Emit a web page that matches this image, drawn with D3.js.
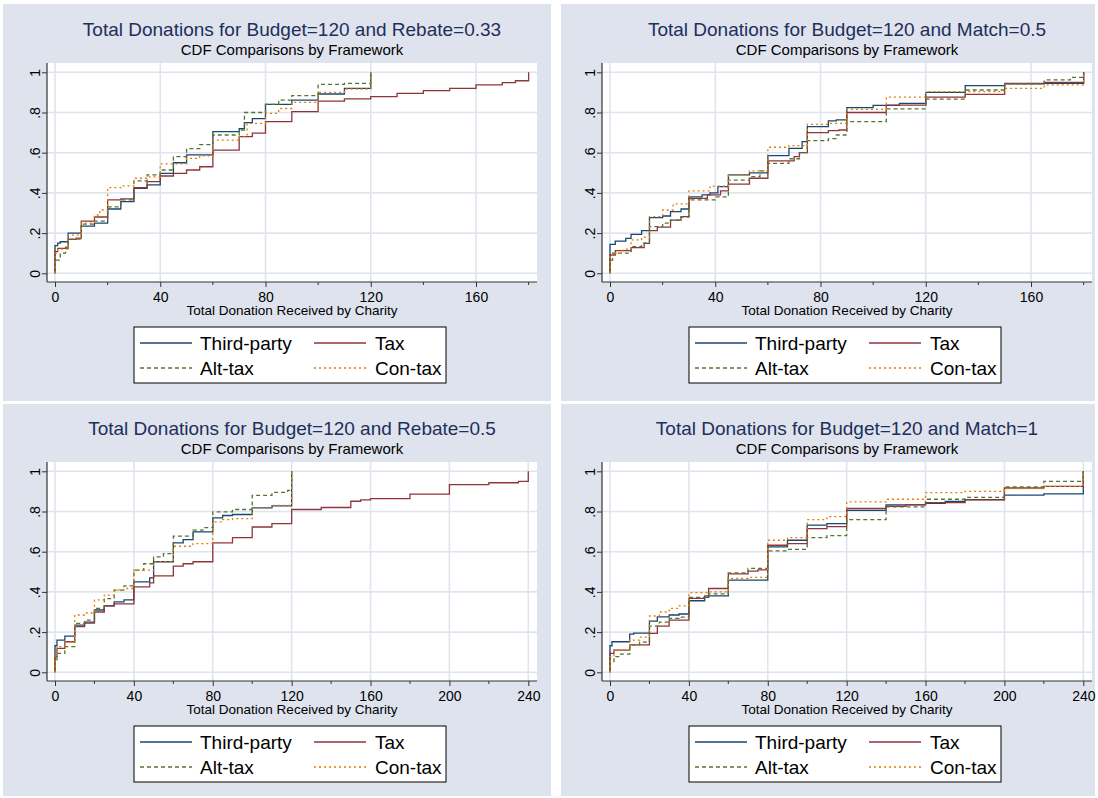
<!DOCTYPE html>
<html><head><meta charset="utf-8">
<script src="https://cdn.jsdelivr.net/npm/d3@7"></script>
<style>body{margin:0;background:#fff} text{font-family:"Liberation Sans",Arial,sans-serif}</style>
</head><body><svg id="c" width="1098" height="798"></svg>
<script>
// ---------- DATA (step points: [donation, cumulative share]) ----------
const seriesNames = ["Third-party","Tax","Alt-tax","Con-tax"];
const titles = ["Total Donations for Budget=120 and Rebate=0.33","Total Donations for Budget=120 and Match=0.5",
                "Total Donations for Budget=120 and Rebate=0.5","Total Donations for Budget=120 and Match=1"];
const subtitle = "CDF Comparisons by Framework";
const xTitle = "Total Donation Received by Charity";
const xTicksA = [0,40,80,120,160], xMinorA = [20,60,100,140,180];
const xTicksB = [0,40,80,120,160,200,240], xMinorB = [20,60,100,140,180,220];
const yTicks = [0,.2,.4,.6,.8,1], yLabels = ["0",".2",".4",".6",".8","1"];

const reb33_third = [[0,0],[0,.138],[1,.15],[2,.157],[5,.20],[10,.235],[15,.25],[20,.32],[25,.357],[30,.423],[35,.44],[40,.497],[45,.55],[50,.589],[60,.705],[70,.72],[72,.75],[75,.77],[80,.84],[90,.862],[100,.892],[110,.92],[120,1]];
const reb33_tax = [[0,0],[0,.108],[1,.124],[5,.169],[8,.175],[10,.26],[15,.28],[20,.365],[25,.37],[30,.426],[35,.456],[40,.484],[45,.497],[50,.514],[55,.53],[60,.613],[70,.68],[75,.697],[80,.755],[90,.804],[100,.857],[110,.868],[120,.879],[130,.895],[140,.909],[150,.92],[160,.937],[170,.949],[175,.958],[180,1]];
const reb33_alt = [[0,0],[0,.066],[2,.10],[4,.13],[5,.17],[10,.245],[15,.26],[20,.33],[25,.365],[30,.46],[35,.49],[40,.514],[45,.58],[50,.62],[55,.64],[60,.688],[70,.713],[72,.80],[80,.84],[85,.862],[90,.884],[100,.94],[110,.945],[120,1]];
const reb33_con = [[0,0],[0,.10],[1,.12],[5,.19],[10,.25],[15,.29],[17,.315],[20,.426],[25,.435],[30,.473],[35,.48],[40,.544],[50,.572],[55,.584],[60,.663],[70,.68],[73,.746],[80,.796],[85,.82],[90,.85],[100,.90],[110,.917],[120,1]];

const mat05_third = [[0,0],[0,.144],[2,.16],[6,.174],[8,.194],[12,.212],[15,.277],[20,.285],[23,.307],[27,.32],[30,.38],[35,.39],[38,.40],[41,.431],[45,.49],[53,.50],[60,.585],[68,.622],[73,.655],[75,.73],[83,.758],[86,.763],[90,.824],[100,.835],[110,.845],[120,.90],[135,.934],[150,.942],[165,.945],[180,1]];
const mat05_tax = [[0,0],[0,.091],[2,.113],[8,.128],[13,.149],[15,.212],[18,.23],[23,.265],[27,.282],[30,.373],[37,.39],[42,.41],[45,.444],[53,.473],[60,.559],[70,.58],[72,.60],[75,.70],[83,.71],[87,.713],[90,.80],[105,.837],[120,.876],[135,.89],[150,.945],[165,.95],[180,1]];
const mat05_alt = [[0,0],[0,.066],[1,.10],[8,.133],[12,.15],[15,.232],[20,.25],[23,.265],[27,.28],[30,.365],[40,.38],[45,.464],[53,.481],[57,.51],[60,.547],[68,.57],[72,.60],[75,.66],[83,.67],[86,.688],[90,.755],[105,.818],[120,.867],[135,.912],[150,.942],[165,.962],[175,.975],[180,1]];
const mat05_con = [[0,0],[0,.083],[1,.10],[5,.12],[8,.166],[12,.18],[15,.282],[20,.315],[24,.345],[30,.41],[38,.434],[45,.489],[53,.51],[60,.627],[68,.635],[75,.741],[83,.746],[90,.816],[105,.876],[120,.904],[150,.92],[165,.937],[180,1]];

const reb50_third = [[0,0],[0,.132],[1,.16],[5,.18],[10,.235],[15,.25],[20,.31],[25,.33],[30,.35],[35,.36],[40,.45],[48,.47],[50,.55],[60,.644],[65,.66],[70,.699],[80,.768],[85,.78],[90,.785],[100,.818],[110,.828],[120,1]];
const reb50_tax = [[0,0],[0,.078],[1,.119],[5,.152],[10,.227],[15,.245],[20,.30],[25,.33],[30,.34],[40,.425],[48,.445],[50,.48],[60,.528],[65,.54],[70,.55],[80,.644],[90,.67],[100,.723],[110,.74],[120,.81],[135,.82],[150,.851],[155,.858],[160,.864],[180,.886],[200,.934],[220,.943],[235,.95],[240,1]];
const reb50_alt = [[0,0],[0,.061],[1,.094],[5,.128],[10,.243],[15,.26],[20,.318],[25,.367],[30,.409],[35,.43],[40,.508],[45,.54],[50,.574],[55,.59],[60,.677],[70,.707],[75,.72],[80,.798],[90,.81],[100,.88],[110,.895],[118,.905],[120,1]];
const reb50_con = [[0,0],[0,.086],[1,.128],[5,.15],[10,.285],[15,.295],[20,.36],[25,.384],[30,.41],[35,.417],[40,.508],[50,.55],[60,.627],[70,.64],[80,.748],[85,.76],[90,.765],[100,.818],[110,.83],[120,1]];

const mat10_third = [[0,0],[0,.132],[1,.152],[10,.19],[12,.195],[20,.255],[24,.276],[30,.285],[35,.29],[40,.356],[48,.373],[50,.38],[60,.459],[80,.624],[90,.657],[100,.732],[110,.74],[120,.806],[140,.833],[160,.841],[170,.85],[180,.859],[200,.881],[220,.888],[240,1]];
const mat10_tax = [[0,0],[0,.094],[2,.11],[10,.136],[20,.194],[24,.23],[30,.26],[40,.368],[48,.38],[50,.417],[60,.49],[70,.503],[75,.51],[80,.632],[90,.64],[100,.715],[110,.725],[120,.815],[140,.826],[150,.834],[160,.844],[180,.858],[200,.917],[220,.925],[240,1]];
const mat10_alt = [[0,0],[0,.053],[2,.078],[5,.09],[10,.136],[15,.15],[20,.23],[25,.25],[30,.268],[35,.275],[40,.373],[50,.39],[60,.495],[70,.517],[80,.604],[90,.612],[100,.67],[110,.68],[120,.76],[140,.823],[160,.861],[180,.87],[200,.922],[220,.95],[240,1]];
const mat10_con = [[0,0],[0,.078],[2,.111],[10,.16],[15,.175],[20,.28],[25,.30],[30,.318],[35,.33],[40,.396],[50,.40],[60,.467],[70,.472],[80,.657],[90,.67],[100,.76],[110,.775],[120,.848],[140,.861],[160,.894],[180,.90],[200,.914],[220,.925],[240,1]];

// ---------- STYLE / LAYOUT ----------
const BG = "#dee3ee", GRID = "#dfe4ee", TITLE_C = "#1e2f5a";
const colors = ["#1a476f","#90353b","#55752f","#e37e00"];
const dashes = [null, null, "4,3", "2,3"];
const panels = [
  {ox:0,   oy:0,   bg:[3,4,548,397],   data:[reb33_third,reb33_tax,reb33_alt,reb33_con], ticks:xTicksA, minor:xMinorA, dom:[0,160], rng:[55,476]},
  {ox:555, oy:0,   bg:[561,4,534,397], data:[mat05_third,mat05_tax,mat05_alt,mat05_con], ticks:xTicksA, minor:xMinorA, dom:[0,160], rng:[55,476]},
  {ox:0,   oy:399, bg:[3,404,548,392], data:[reb50_third,reb50_tax,reb50_alt,reb50_con], ticks:xTicksB, minor:xMinorB, dom:[0,240], rng:[55,528.3]},
  {ox:555, oy:399, bg:[561,404,534,392], data:[mat10_third,mat10_tax,mat10_alt,mat10_con], ticks:xTicksB, minor:xMinorB, dom:[0,240], rng:[55,528.3]}
];

const svg = d3.select("#c");
panels.forEach((p, i) => {
  const g = svg.append("g");
  g.append("rect").attr("x",p.bg[0]).attr("y",p.bg[1]).attr("width",p.bg[2]).attr("height",p.bg[3]).attr("fill",BG);
  const X0 = 47 + p.ox, X1 = 537 + p.ox, Y0 = 63 + p.oy, Y1 = 282 + p.oy;
  const x = d3.scaleLinear().domain(p.dom).range(p.rng.map(v => v + p.ox));
  const y = d3.scaleLinear().domain([0,1]).range([273.3 + p.oy, 72.3 + p.oy]);
  g.append("rect").attr("x",X0).attr("y",Y0).attr("width",X1-X0).attr("height",Y1-Y0).attr("fill","#fff");
  // grid
  g.selectAll(".hg").data(yTicks).join("line").attr("x1",X0).attr("x2",X1)
    .attr("y1",d=>y(d)).attr("y2",d=>y(d)).attr("stroke",GRID).attr("stroke-width",1.6);
  g.selectAll(".vg").data(p.ticks).join("line").attr("y1",Y0).attr("y2",Y1)
    .attr("x1",d=>x(d)).attr("x2",d=>x(d)).attr("stroke",GRID).attr("stroke-width",1.6);
  // series
  const line = d3.line().x(d=>x(d[0])).y(d=>y(d[1])).curve(d3.curveStepAfter);
  p.data.forEach((s, k) => {
    g.append("path").datum(s).attr("d", line).attr("fill","none")
      .attr("stroke", colors[k]).attr("stroke-width",1.3)
      .attr("stroke-dasharray", dashes[k]);
  });
  // y axis
  const ya = g.append("g").attr("transform",`translate(${X0},0)`)
    .call(d3.axisLeft(y).tickValues(yTicks).tickSize(5).tickFormat((d,j)=>yLabels[j]));
  ya.select(".domain").attr("d",`M0,${Y0}V${Y1}`).attr("stroke","#333").attr("stroke-width",1.2);
  ya.selectAll(".tick line").attr("stroke","#333");
  ya.selectAll(".tick text").attr("transform",null).attr("x",null).attr("dy",null)
    .attr("transform","translate(-7,0) rotate(-90)").attr("text-anchor","middle")
    .attr("y",0).attr("font-size",14).attr("fill","#000").attr("font-family","Liberation Sans, Arial");
  // x axis
  const xa = g.append("g").attr("transform",`translate(0,${Y1})`)
    .call(d3.axisBottom(x).tickValues(p.ticks).tickSize(5).tickFormat(d3.format("d")));
  xa.select(".domain").attr("d",`M${X0},0H${X1}`).attr("stroke","#333").attr("stroke-width",1.2);
  xa.selectAll(".tick line").attr("stroke","#333");
  xa.selectAll(".tick text").attr("y",20).attr("dy",null).attr("font-size",14).attr("fill","#000").attr("font-family","Liberation Sans, Arial");
  g.selectAll(".mt").data(p.minor).join("line").attr("x1",d=>x(d)).attr("x2",d=>x(d))
    .attr("y1",Y1).attr("y2",Y1+3).attr("stroke","#333");
  const cx = (X0 + X1) / 2;
  g.append("text").attr("x",cx).attr("y",Y1+33).attr("text-anchor","middle").attr("font-size",13.5).text(xTitle);
  // titles
  g.append("text").attr("x",cx).attr("y",36+p.oy).attr("text-anchor","middle").attr("font-size",19).attr("fill",TITLE_C).text(titles[i]);
  g.append("text").attr("x",cx).attr("y",55+p.oy).attr("text-anchor","middle").attr("font-size",15).attr("fill","#000").text(subtitle);
  // legend
  const lg = g.append("g").attr("transform",`translate(${p.ox},${p.oy})`);
  lg.append("rect").attr("x",134).attr("y",327).attr("width",312).attr("height",56).attr("fill","#fff").attr("stroke","#000").attr("stroke-width",1);
  const pos = [[140,343],[314,343],[140,368],[314,368]];
  seriesNames.forEach((nm,k) => {
    const [lx,ly] = pos[k];
    lg.append("line").attr("x1",lx).attr("x2",lx+52).attr("y1",ly).attr("y2",ly)
      .attr("stroke",colors[k]).attr("stroke-width",1.3).attr("stroke-dasharray",dashes[k]);
    lg.append("text").attr("x",lx+(k%2?61:60)).attr("y",ly+7).attr("font-size",19).attr("fill","#000").text(nm);
  });
});
</script></body></html>
